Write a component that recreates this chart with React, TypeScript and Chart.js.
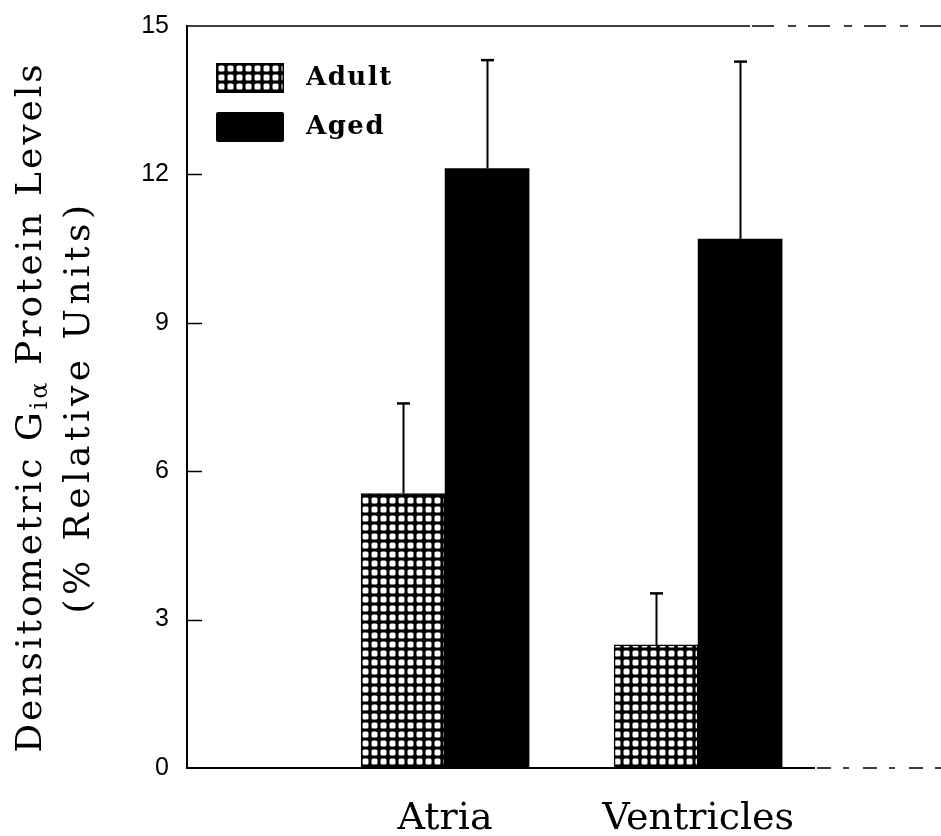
import React, { useEffect, useRef } from 'react';
import { Chart, registerables } from 'chart.js';

Chart.register(...registerables);

// Tissue groups along the x axis and where each group sits on the numeric x scale
const categories = ['Atria', 'Ventricles'];
const categoryPositions = [1, 2];

// Series: mean densitometric level and upper error (SEM) per tissue
const seriesNames = ['Adult', 'Aged'];
const adultMeans = [5.55, 2.49];
const adultErrors = [1.82, 1.04];
const agedMeans = [12.12, 10.69];
const agedErrors = [2.19, 3.59];

// Value axis
const yMin = 0;
const yMax = 15;
const yStep = 3;

// Axis title pieces (G with subscript iα)
const yTitleMain = ['Densitometric G', 'iα', ' Protein Levels'];
const yTitleSub = '(% Relative Units)';

const SERIF = '"DejaVu Serif", "Liberation Serif", serif';
const SANS = '"Liberation Sans", Arial, sans-serif';

function makeGridPattern(): CanvasPattern | string {
  const tile = document.createElement('canvas');
  tile.width = 9;
  tile.height = 9;
  const c = tile.getContext('2d');
  if (!c) return '#000';
  c.fillStyle = '#000';
  c.fillRect(0, 0, 9, 9);
  c.fillStyle = '#fff';
  c.beginPath();
  (c as any).roundRect(2.5, 2.5, 6, 6, 1.6);
  c.fill();
  return c.createPattern(tile, 'repeat') || '#000';
}

// Frame: solid left axis, top rule and baseline that break into dashes toward the right
const framePlugin = {
  id: 'frame',
  afterDatasetsDraw(chart: any) {
    const { ctx, chartArea, scales } = chart;
    const { left, right, top, bottom } = chartArea;
    const y = scales.y;
    ctx.save();
    ctx.strokeStyle = '#000';
    ctx.lineCap = 'butt';

    // top rule
    ctx.lineWidth = 1.5;
    ctx.beginPath();
    ctx.moveTo(left, top);
    ctx.lineTo(750, top);
    ctx.stroke();
    ctx.lineWidth = 1.5;
    ctx.setLineDash([22, 14, 8, 12]);
    ctx.beginPath();
    ctx.moveTo(752, top);
    ctx.lineTo(right, top);
    ctx.stroke();

    // baseline
    ctx.setLineDash([]);
    ctx.lineWidth = 2;
    ctx.beginPath();
    ctx.moveTo(left, bottom);
    ctx.lineTo(815, bottom);
    ctx.stroke();
    ctx.lineWidth = 1.5;
    ctx.setLineDash([14, 12, 6, 14]);
    ctx.beginPath();
    ctx.moveTo(817, bottom);
    ctx.lineTo(right, bottom);
    ctx.stroke();

    // inward tick marks on the value axis
    ctx.setLineDash([]);
    ctx.lineWidth = 1.5;
    for (let v = yMin + yStep; v < yMax; v += yStep) {
      const py = Math.round(y.getPixelForValue(v)) + 0.5;
      ctx.beginPath();
      ctx.moveTo(left, py);
      ctx.lineTo(left + 15, py);
      ctx.stroke();
    }
    ctx.restore();
  },
};

// Upper error whiskers with caps
const errorBarPlugin = {
  id: 'errorBars',
  afterDatasetsDraw(chart: any) {
    const { ctx, scales } = chart;
    const y = scales.y;
    ctx.save();
    ctx.strokeStyle = '#000';
    chart.data.datasets.forEach((ds: any, di: number) => {
      const meta = chart.getDatasetMeta(di);
      const errs: number[] = ds.errors || [];
      meta.data.forEach((bar: any, i: number) => {
        const mean = ds.data[i].y;
        const topPx = y.getPixelForValue(mean + errs[i]);
        const basePx = y.getPixelForValue(mean);
        const x = Math.round(bar.x) + 0.5;
        ctx.lineWidth = 2;
        ctx.beginPath();
        ctx.moveTo(x, basePx);
        ctx.lineTo(x, topPx);
        ctx.stroke();
        ctx.lineWidth = 2.5;
        ctx.beginPath();
        ctx.moveTo(x - 6.5, topPx);
        ctx.lineTo(x + 6.5, topPx);
        ctx.stroke();
      });
    });
    ctx.restore();
  },
};

// Legend boxed in the upper left of the plot
const insetLegendPlugin = {
  id: 'insetLegend',
  afterDraw(chart: any) {
    const { ctx, chartArea } = chart;
    const boxX = chartArea.left + 29;
    const boxW = 68;
    const boxH = 30;
    const firstTop = chartArea.top + 37;
    const rowGap = 49;
    ctx.save();
    chart.data.datasets.forEach((ds: any, i: number) => {
      const top = firstTop + i * rowGap;
      ctx.fillStyle = ds.backgroundColor;
      ctx.beginPath();
      (ctx as any).roundRect(boxX, top, boxW, boxH, 2);
      ctx.fill();
      if (ds.borderWidth) {
        ctx.strokeStyle = '#000';
        ctx.lineWidth = 1.5;
        ctx.strokeRect(boxX + 0.75, top + 0.75, boxW - 1.5, boxH - 1.5);
      }
      ctx.fillStyle = '#000';
      ctx.font = `bold 26px ${SERIF}`;
      (ctx as any).letterSpacing = '1.5px';
      ctx.textAlign = 'left';
      ctx.textBaseline = 'middle';
      ctx.fillText(ds.label, boxX + boxW + 22, top + boxH / 2);
    });
    ctx.restore();
  },
};

// Rotated two-line value-axis title with a subscript
const yTitlePlugin = {
  id: 'yTitle',
  afterDraw(chart: any) {
    const { ctx, chartArea } = chart;
    const cy = (chartArea.top + chartArea.bottom) / 2 + 10;
    const mainFont = `36px ${SERIF}`;
    const subFont = `24px ${SERIF}`;
    ctx.save();
    ctx.fillStyle = '#000';
    (ctx as any).letterSpacing = '3px';
    ctx.textBaseline = 'alphabetic';
    ctx.textAlign = 'left';

    // line 1
    ctx.save();
    ctx.translate(41, cy);
    ctx.rotate(-Math.PI / 2);
    ctx.font = mainFont;
    const w0 = ctx.measureText(yTitleMain[0]).width;
    const w2 = ctx.measureText(yTitleMain[2]).width;
    ctx.font = subFont;
    const w1 = ctx.measureText(yTitleMain[1]).width;
    let x = -(w0 + w1 + w2) / 2;
    ctx.font = mainFont;
    ctx.fillText(yTitleMain[0], x, 0);
    x += w0;
    ctx.font = subFont;
    ctx.fillText(yTitleMain[1], x, 6);
    x += w1;
    ctx.font = mainFont;
    ctx.fillText(yTitleMain[2], x, 0);
    ctx.restore();

    // line 2
    ctx.save();
    ctx.translate(89, cy);
    ctx.rotate(-Math.PI / 2);
    ctx.font = mainFont;
    (ctx as any).letterSpacing = '4.5px';
    ctx.textAlign = 'center';
    ctx.fillText(yTitleSub, 0, 0);
    ctx.restore();

    ctx.restore();
  },
};

export default function App() {
  const canvasRef = useRef<HTMLCanvasElement | null>(null);

  useEffect(() => {
    const canvas = canvasRef.current;
    if (!canvas) return;
    const gridPattern = makeGridPattern();

    const chart = new Chart(canvas, {
      type: 'bar',
      data: {
        datasets: [
          {
            label: seriesNames[0],
            data: categoryPositions.map((x, i) => ({ x, y: adultMeans[i] })),
            backgroundColor: gridPattern as any,
            borderColor: '#000',
            borderWidth: 1.5,
            barThickness: 84,
            errors: adultErrors,
          } as any,
          {
            label: seriesNames[1],
            data: categoryPositions.map((x, i) => ({ x, y: agedMeans[i] })),
            backgroundColor: '#000',
            borderWidth: 0,
            barThickness: 84,
            errors: agedErrors,
          } as any,
        ],
      },
      options: {
        responsive: false,
        devicePixelRatio: 1,
        animation: false,
        layout: { padding: { top: 26, right: 0, bottom: 0, left: 0 } },
        plugins: {
          legend: { display: false },
          tooltip: { enabled: false },
        },
        scales: {
          x: {
            type: 'linear',
            min: -0.02,
            max: 2.96,
            offset: false,
            grid: { display: false, drawTicks: false },
            border: { display: false },
            afterBuildTicks: (s: any) => {
              s.ticks = categoryPositions.map((v) => ({ value: v }));
            },
            afterFit: (s: any) => {
              s.height = 68;
              s.paddingLeft = 0;
              s.paddingRight = 0;
            },
            ticks: {
              autoSkip: false,
              maxRotation: 0,
              padding: 28,
              color: '#000',
              font: { family: SERIF, size: 38 },
              callback: (v: any) => {
                const idx = categoryPositions.indexOf(Number(v));
                return idx >= 0 ? categories[idx] : '';
              },
            },
          },
          y: {
            type: 'linear',
            min: yMin,
            max: yMax,
            grid: { display: false, drawTicks: false },
            border: { display: true, color: '#000', width: 2 },
            afterFit: (s: any) => {
              s.width = 187;
              s.paddingTop = 0;
              s.paddingBottom = 0;
            },
            ticks: {
              stepSize: yStep,
              padding: 18,
              color: '#000',
              font: { family: SANS, size: 25 },
            },
          },
        },
      } as any,
      plugins: [framePlugin, errorBarPlugin, insetLegendPlugin, yTitlePlugin],
    });

    return () => {
      chart.destroy();
    };
  }, []);

  return (
    <div style={{ position: 'absolute', left: 0, top: 0, width: 941, height: 836, background: '#fff' }}>
      <canvas ref={canvasRef} width={941} height={836} style={{ display: 'block' }} />
    </div>
  );
}
